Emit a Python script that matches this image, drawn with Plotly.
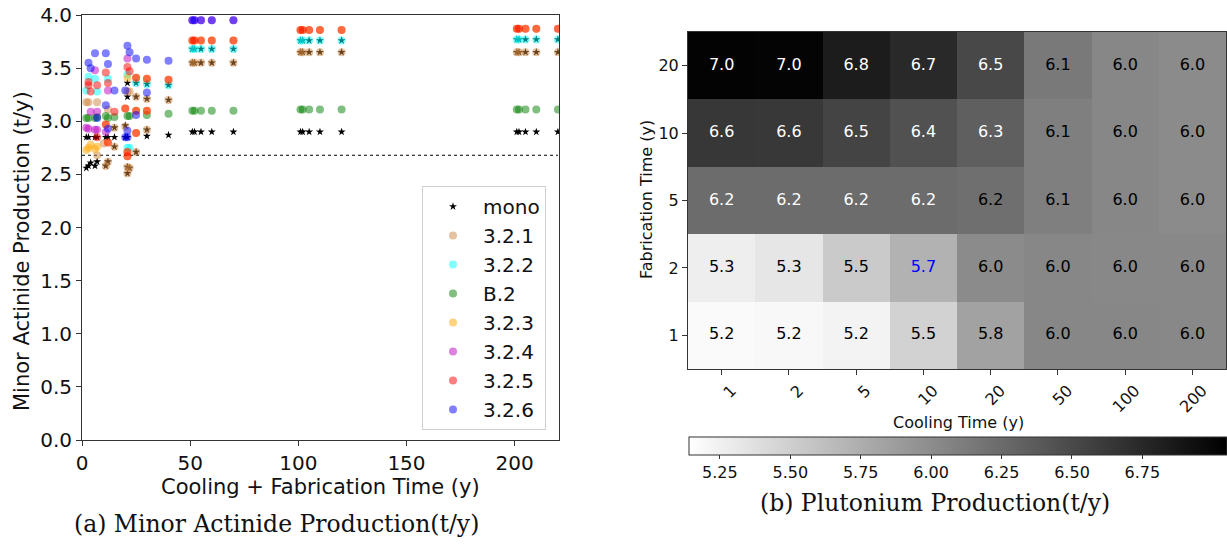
import plotly.graph_objects as go

# ---------------- data: left panel (minor actinide production, t/y) ----------------
fab_times = [1, 2, 5, 10, 20]
late_cooling = [50, 100, 200]
reference_level = 2.68

mono_x = [2, 3, 4, 6, 7, 2, 3, 6, 7, 11, 12, 15, 20, 21, 30, 40, 11, 12, 21, 22, 21,
          15, 25, 15, 20, 30, 21, 25, 30, 40, 21, 25, 30, 40]
mono_y = [2.56, 2.58, 2.61, 2.58, 2.62, 2.85, 2.85, 2.85, 2.85, 2.85, 2.85, 2.85, 2.85, 2.85, 2.86, 2.87,
          2.58, 2.62, 2.57, 2.56, 2.51, 2.76, 2.71, 2.94, 2.96, 2.92, 3.23, 3.23, 3.21, 3.20,
          3.36, 3.36, 3.35, 3.34]
mono_late_a = [2.90, 2.90, 2.90]
mono_late_b = [3.55, 3.65, 3.65]
mono_late_c = [3.68, 3.76, 3.77]

s321_x = [2, 3, 7, 12, 21, 22, 25, 30, 40, 15, 20, 30, 10, 15, 25, 7, 11, 12, 21, 22, 21]
s321_y = [3.18, 3.18, 3.18, 3.11, 3.28, 3.28, 3.23, 3.21, 3.20, 2.94, 2.95, 2.92, 2.79, 2.76, 2.71,
          2.68, 2.58, 2.62, 2.57, 2.56, 2.51]
s321_late = [3.55, 3.65, 3.65]

s322_x = [2, 3, 6, 7, 12, 21, 25, 30, 40, 21, 22]
s322_y = [3.29, 3.42, 3.40, 3.28, 3.40, 3.44, 3.36, 3.35, 3.34, 2.75, 2.75]
s322_late = [3.68, 3.76, 3.77]

b2_x = [2, 3, 6, 7, 11, 12, 15, 21, 22, 30, 40]
b2_y = [3.03, 3.03, 3.03, 3.04, 3.05, 3.03, 3.04, 3.05, 3.05, 3.06, 3.07]
b2_late = [3.10, 3.11, 3.11]

s323_x = [2, 3, 4, 6, 7, 21, 25, 30, 40, 20, 25, 30, 11, 12, 25, 21, 21]
s323_y = [2.73, 2.75, 2.78, 2.74, 2.76, 3.41, 3.41, 3.40, 3.39, 3.12, 3.10, 3.10, 2.97, 2.80, 2.89,
          2.71, 2.67]
s323_late = [3.76, 3.86, 3.87]

s324_x = [2, 3, 6, 7, 4, 7, 12, 6, 21, 11]
s324_y = [2.94, 2.93, 2.92, 2.92, 3.09, 3.09, 3.29, 3.48, 3.59, 2.90]
s324_late = [3.95]

s325_x = [3, 3, 4, 7, 11, 12, 21, 22, 25, 30, 40, 15, 20, 25, 30, 11, 7, 12, 25, 21, 21]
s325_y = [3.37, 3.34, 3.28, 3.34, 3.46, 3.36, 3.51, 3.47, 3.41, 3.40, 3.39, 3.09, 3.12, 3.10, 3.10,
          2.97, 2.85, 2.80, 2.89, 2.71, 2.67]
s325_late = [3.76, 3.86, 3.87]

s326_x = [6, 11, 21, 22, 3, 4, 12, 25, 30, 40, 15, 20, 30, 11, 7, 25, 12, 21, 20, 21]
s326_y = [3.64, 3.64, 3.71, 3.65, 3.55, 3.50, 3.54, 3.59, 3.58, 3.57, 3.29, 3.29, 3.27, 3.15, 3.03,
          3.06, 2.93, 2.91, 2.85, 2.85]
s326_late = [3.95]

# ---------------- data: right panel (plutonium production, t/y) ----------------
cooling_labels = ["1", "2", "5", "10", "20", "50", "100", "200"]
fab_labels = ["1", "2", "5", "10", "20"]
pu_fab1 = [5.18, 5.19, 5.23, 5.48, 5.84, 6.04, 6.04, 6.03]
pu_fab2 = [5.27, 5.33, 5.54, 5.72, 6.01, 6.04, 6.03, 6.03]
pu_fab5 = [6.24, 6.24, 6.24, 6.24, 6.22, 6.10, 6.04, 6.01]
pu_fab10 = [6.64, 6.63, 6.54, 6.44, 6.34, 6.10, 6.04, 6.01]
pu_fab20 = [7.03, 7.02, 6.84, 6.74, 6.51, 6.14, 6.04, 6.01]
highlight_cell = ("10", "2")
cbar_ticks = [5.25, 5.50, 5.75, 6.00, 6.25, 6.50, 6.75]


def late_points(levels):
    xs, ys = [], []
    for c, v in zip(late_cooling, levels):
        for f in fab_times:
            xs.append(c + f)
            ys.append(v)
    return xs, ys


fig = go.Figure()
FONT = "DejaVu Sans"

# reference line
fig.add_trace(go.Scatter(x=[0, 220], y=[reference_level, reference_level], mode="lines",
                         line=dict(color="black", width=1, dash="dot"), showlegend=False,
                         hoverinfo="skip", xaxis="x", yaxis="y"))

mx, my = list(mono_x), list(mono_y)
for lv in (mono_late_a, mono_late_b, mono_late_c):
    lx, ly = late_points(lv)
    mx += lx
    my += ly
fig.add_trace(go.Scatter(x=mx, y=my, mode="markers", name="mono",
                         marker=dict(symbol="star", size=6, color="black"),
                         xaxis="x", yaxis="y"))

series = [
    ("3.2.1", s321_x, s321_y, s321_late, "rgba(205,133,63,0.5)"),
    ("3.2.2", s322_x, s322_y, s322_late, "rgba(0,255,255,0.5)"),
    ("B.2", b2_x, b2_y, b2_late, "rgba(0,128,0,0.5)"),
    ("3.2.3", s323_x, s323_y, s323_late, "rgba(255,165,0,0.5)"),
    ("3.2.4", s324_x, s324_y, s324_late, "rgba(191,0,191,0.5)"),
    ("3.2.5", s325_x, s325_y, s325_late, "rgba(255,0,0,0.5)"),
    ("3.2.6", s326_x, s326_y, s326_late, "rgba(0,0,255,0.5)"),
]
for name, xs, ys, late, col in series:
    lx, ly = late_points(late)
    fig.add_trace(go.Scatter(x=list(xs) + lx, y=list(ys) + ly, mode="markers", name=name,
                             marker=dict(symbol="circle", size=8, color=col, line=dict(width=0)),
                             xaxis="x", yaxis="y"))

# heatmap
z = [pu_fab1, pu_fab2, pu_fab5, pu_fab10, pu_fab20]
fig.add_trace(go.Heatmap(
    z=z, x=cooling_labels, y=fab_labels, xaxis="x2", yaxis="y2",
    colorscale=[[0, "white"], [1, "black"]], zmin=5.14, zmax=7.05, showscale=True,
    colorbar=dict(orientation="h", x=0.7807, xanchor="center", len=0.4385, lenmode="fraction",
                  thickness=18, y=1 - 437 / 544, yanchor="top", xpad=0, ypad=0,
                  outlinewidth=1, outlinecolor="#333",
                  tickvals=cbar_ticks, ticktext=[f"{t:.2f}" for t in cbar_ticks],
                  ticks="outside", ticklen=4, tickcolor="#333",
                  tickfont=dict(family=FONT, size=16, color="#111")),
    hoverinfo="skip"))

tx, ty, tt, tc = [], [], [], []
for fi, row in enumerate(z):
    for ci, v in enumerate(row):
        tx.append(cooling_labels[ci])
        ty.append(fab_labels[fi])
        tt.append(f"{v:.1f}")
        if (cooling_labels[ci], fab_labels[fi]) == highlight_cell:
            tc.append("blue")
        elif v > 6.23:
            tc.append("white")
        else:
            tc.append("black")
fig.add_trace(go.Scatter(x=tx, y=ty, mode="text", text=tt, textposition="middle center",
                         textfont=dict(family=FONT, size=16, color=tc), showlegend=False,
                         hoverinfo="skip", xaxis="x2", yaxis="y2"))

axis_common = dict(showline=True, mirror=True, linecolor="#333", linewidth=1, showgrid=False,
                   zeroline=False, ticks="outside", tickcolor="#333")

fig.update_layout(
    width=1227, height=544, autosize=False,
    margin=dict(l=0, r=0, t=0, b=0, autoexpand=False),
    paper_bgcolor="white", plot_bgcolor="white",
    font=dict(family=FONT, color="#111"),
    xaxis=dict(domain=[82 / 1227, 559 / 1227], range=[0, 220.5], tickvals=[0, 50, 100, 150, 200],
               ticklen=5, tickfont=dict(size=20), anchor="y", **axis_common),
    yaxis=dict(domain=[1 - 440 / 544, 1 - 15 / 544], range=[0, 4], tickvals=[0, 0.5, 1, 1.5, 2, 2.5, 3, 3.5, 4],
               tickformat=".1f", ticklen=5, tickfont=dict(size=20), anchor="x", **axis_common),
    xaxis2=dict(domain=[688 / 1227, 1226 / 1227], type="category", categoryorder="array",
                categoryarray=cooling_labels, tickangle=-45, ticklen=5, tickfont=dict(size=16),
                anchor="y2", ticklabelshift=10, **axis_common),
    yaxis2=dict(domain=[1 - 369 / 544, 1 - 32 / 544], type="category", categoryorder="array",
                categoryarray=fab_labels, ticklen=5, tickfont=dict(size=16), anchor="x2", **axis_common),
    legend=dict(x=546 / 1227, y=1 - 430 / 544, xanchor="right", yanchor="bottom",
                bgcolor="white", bordercolor="#d0d0d0", borderwidth=1,
                font=dict(family=FONT, size=20, color="#111"), itemwidth=50),
    showlegend=True,
)

SERIF = "DejaVu Serif"
annots = [
    dict(text="Minor Actinide Production (t/y)", x=22 / 1227, y=1 - 251 / 544, textangle=-90,
         font=dict(size=21, family=FONT)),
    dict(text="Cooling + Fabrication Time (y)", x=320 / 1227, y=1 - 487 / 544, font=dict(size=21, family=FONT)),
    dict(text="(a) Minor Actinide Production(t/y)", x=276 / 1227, y=1 - 524 / 544,
         font=dict(size=23.5, family=SERIF)),
    dict(text="Cooling Time (y)", x=958 / 1227, y=1 - 422 / 544, font=dict(size=16, family=FONT)),
    dict(text="Fabrication Time (y)", x=646 / 1227, y=1 - 200 / 544, textangle=-90,
         font=dict(size=16, family=FONT)),
    dict(text="(b) Plutonium Production(t/y)", x=935 / 1227, y=1 - 503 / 544,
         font=dict(size=23.5, family=SERIF)),
]
for a in annots:
    a.update(xref="paper", yref="paper", showarrow=False, xanchor="center", yanchor="middle")
    a["font"]["color"] = "#111"
fig.update_layout(annotations=annots)

fig.write_html("out.html")
